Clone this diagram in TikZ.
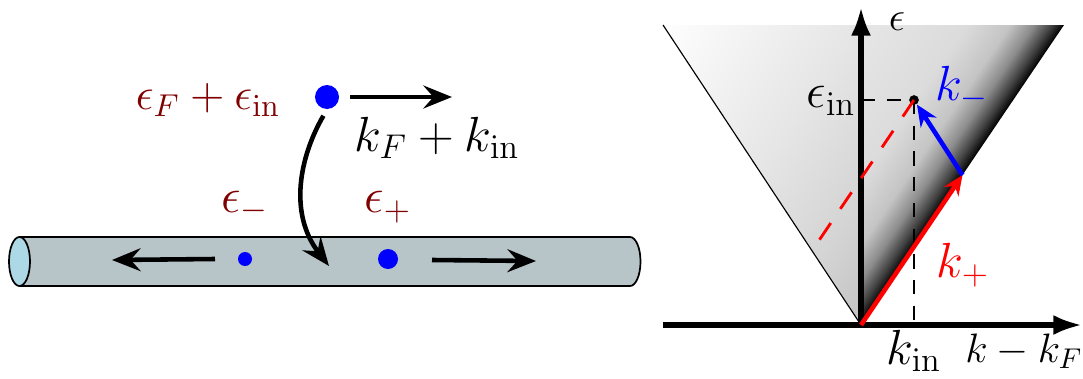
\documentclass[tikz,border=0pt]{standalone}
\usepackage{fix-cm}
\usepackage{amsmath}
\usepackage{xcolor}
\definecolor{wirefill}{RGB}{183,196,200}
\definecolor{wireend}{RGB}{173,216,230}
\definecolor{labred}{RGB}{128,0,0}
\usepackage{tikz}
\usetikzlibrary{arrows.meta, calc}
% dark side of the cone (from the edge inwards)
\pgfdeclareverticalshading{conedark}{100bp}{gray(0bp)=(0); gray(25bp)=(0); gray(26.5bp)=(0.25);
  gray(28.7bp)=(0.55); gray(31.6bp)=(0.77); gray(36.8bp)=(0.86); gray(54.4bp)=(0.92);
  gray(75bp)=(0.99); gray(100bp)=(0.99)}
% light side of the cone
\pgfdeclareverticalshading{conelight}{100bp}{gray(0bp)=(0.76); gray(25bp)=(0.76);
  gray(35bp)=(0.83); gray(50bp)=(0.9); gray(75bp)=(1); gray(100bp)=(1)}

\begin{document}
\begin{tikzpicture}[x=0.35pt, y=0.35pt,
  move/.style={line width=1.6pt, -{Stealth[length=10pt, width=8pt, inset=3.5pt]}},
  axis/.style={line width=1.8pt, -{Latex[length=10pt, width=7pt]}},
  dot/.style={circle, fill=blue, inner sep=0pt},
  lab/.style={font=\LARGE, text=labred},
  guide/.style={dash pattern=on 5pt off 4pt, line width=0.6pt}]

  \useasboundingbox (0,0) rectangle (1083,378);

  % --- Left: the wire ---
  \draw[fill=wirefill, line width=0.6pt] (19.5,141) -- (630,141)
    arc[start angle=90, end angle=-90, x radius=10.5, y radius=24.5] -- (19.5,92) -- cycle;
  \draw[fill=wireend, line width=0.6pt] (19.5,116.5) ellipse [x radius=10.5, y radius=24.5];

  % incoming electron
  \node[dot, minimum size=8.4pt] (inc) at (327,281) {};
  \node[lab, font=\fontsize{15.8}{19}\selectfont] (linc) at (208,278) {$\epsilon_F+\epsilon_{\mathrm{in}}$};
  \coordinate (kfs) at (350,281);
  \coordinate (kfe) at (452,281);
  \draw[move] (kfs) -- (kfe);
  \node[font=\LARGE] (lkinc) at (437,240) {$k_F+k_{\mathrm{in}}$};

  % falls into the wire
  \coordinate (land) at (329,112);
  \draw[move, shorten <=2.5pt] (inc.south) .. controls (300,222) and (288,165) .. (land);

  % outgoing pair
  \node[dot, minimum size=4.9pt] (em) at (245,119) {};
  \node[dot, minimum size=7pt] (ep) at (388,119) {};
  \node[lab] (lem) at (245,171) {$\epsilon_-$};
  \node[lab] (lep) at (388,171) {$\epsilon_+$};
  \coordinate (ems) at (215,119);
  \coordinate (eme) at (112,118);
  \coordinate (eps) at (432,118);
  \coordinate (epe) at (536,117);
  \draw[move] (ems) -- (eme);
  \draw[move] (eps) -- (epe);

  % --- Right: the cone ---
  \coordinate (A) at (861,53);
  \coordinate (TL) at (663,353);
  \coordinate (TM) at (861,353);
  \coordinate (TR) at (1064,353);
  \begin{scope}
    \clip (A) -- (TL) -- (TM) -- cycle;
    \begin{scope}[transform canvas={rotate around={55.9:(A)}}]
      \shade[shading=conelight] ($(A)+(-20,0)$) rectangle ($(A)+(380,340)$);
    \end{scope}
  \end{scope}
  \begin{scope}
    \clip (A) -- (TM) -- (TR) -- cycle;
    \begin{scope}[transform canvas={rotate around={55.9:(A)}}]
      \shade[shading=conedark] ($(A)+(-20,0)$) rectangle ($(A)+(380,340)$);
    \end{scope}
  \end{scope}
  \draw[line width=0.4pt] (A) -- (TL);

  % axes
  \coordinate (xl) at (663,53);
  \coordinate (xr) at (1082,53);
  \coordinate (yt) at (861,371);
  \draw[axis] (xl) -- (xr);
  \draw[axis] (A) -- (yt);

  % energy and momentum of the incoming electron
  \node[circle, fill=black, inner sep=0pt, minimum size=3.4pt] (D) at (914,278) {};
  \coordinate (Dy) at (861,278);
  \coordinate (Dx) at (914,53);
  \draw[guide] (Dy) -- (D.center);
  \draw[guide] (D.center) -- (Dx);

  \coordinate (P) at ($(A)!0.5!(TR)$);
  \coordinate (D2) at ($(D)-(203,300)$);
  \draw[red, line width=1pt, dash pattern=on 7pt off 6pt] (D.center) -- (intersection of D--D2 and A--TL);
  \draw[red, line width=1.6pt, -{Stealth[length=7pt, width=6pt]}] (A) -- (P);
  \draw[blue, line width=1.6pt, -{Stealth[length=7.5pt, width=6.5pt]}] (P) -- (D);

  \node[font=\Large] (leps) at (897,356) {$\epsilon$};
  \node[font=\LARGE, anchor=east, inner sep=1pt] (lein) at (859,277) {$\epsilon_{\mathrm{in}}$};
  \node[font=\LARGE, text=blue] (lkm) at (962,290) {$k_-$};
  \node[font=\LARGE, text=red] (lkp) at (963,113) {$k_+$};
  \node[font=\LARGE] (lkin) at (914,27) {$k_{\mathrm{in}}$};
  \node[font=\Large] (lkx) at (1024,27) {$k-k_F$};
\end{tikzpicture}
\end{document}
